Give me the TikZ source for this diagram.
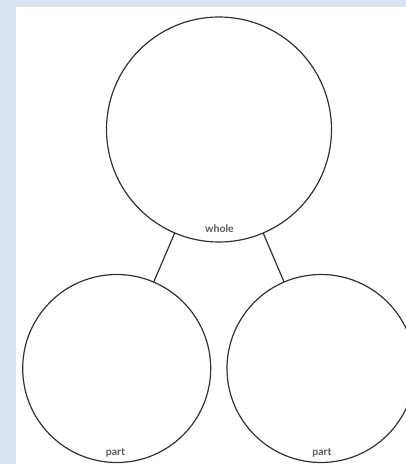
\documentclass[tikz,border=0pt]{standalone}
\usepackage{fontspec}
\setmainfont{Lato}
\definecolor{bgblue}{RGB}{218,227,243}
\definecolor{ink}{RGB}{50,50,50}
\definecolor{labgray}{RGB}{90,90,90}
\begin{document}
\begin{tikzpicture}[x=1pt,y=-1pt,
  ring/.style={circle,draw=ink,line width=1.2pt,inner sep=0pt,outer sep=0pt},
  link/.style={draw=ink,line width=1.2pt},
  lab/.style={text=labgray,font=\fontsize{10.5}{12}\selectfont\bfseries,inner sep=0pt}]
\fill[bgblue] (0,0) rectangle (406,464);
\fill[white] (16,7) rectangle (406,464);
\useasboundingbox (0,0) rectangle (406,464);
\node[ring,minimum size=225pt] (whole) at (219,129.5) {};
\node[ring,minimum size=188pt] (partL) at (116.7,368.5) {};
\node[ring,minimum size=188pt] (partR) at (321,368.5) {};
\draw[link] (whole) -- (partL);
\draw[link] (whole) -- (partR);
\node[lab] (wlab) at (219.5,228.5) {whole};
\node[lab] (plab) at (115.5,452.5) {part};
\node[lab] (prab) at (322,452.5) {part};
\end{tikzpicture}
\end{document}
